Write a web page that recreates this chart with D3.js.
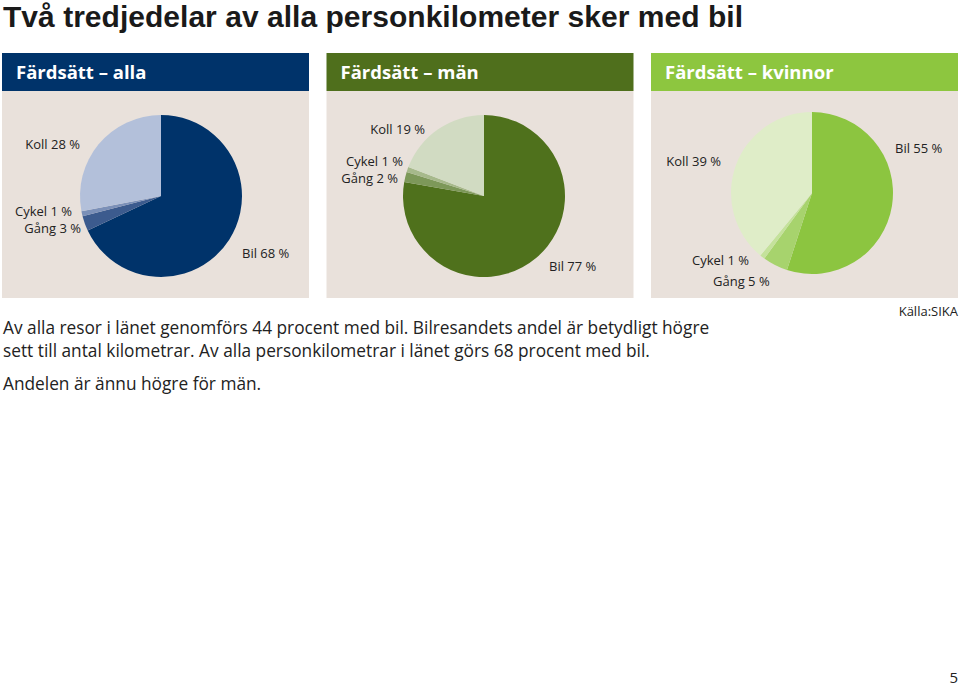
<!DOCTYPE html>
<html>
<head>
<meta charset="utf-8">
<script src="https://cdn.jsdelivr.net/npm/d3@7"></script>
<style>
  body { margin: 0; background: #fff; }
  svg { display: block; font-family: "Open Sans", "Noto Sans", sans-serif; }
</style>
</head>
<body>
<svg id="chart" width="960" height="686"></svg>
<script>
// Data
var modes = ["Bil", "Gång", "Cykel", "Koll"];
var panelTitles = ["Färdsätt – alla", "Färdsätt – män", "Färdsätt – kvinnor"];
var sharesAlla = [68, 3, 1, 28];
var sharesMan = [77, 2, 1, 19];
var sharesKvinnor = [55, 5, 1, 39];

var headline = "Två tredjedelar av alla personkilometer sker med bil";
var bodyLines = [
    "Av alla resor i länet genomförs 44 procent med bil. Bilresandets andel är betydligt högre",
    "sett till antal kilometrar. Av alla personkilometrar i länet görs 68 procent med bil.",
    "Andelen är ännu högre för män."
];
var source = "Källa:SIKA";
var pageNo = "5";

// Colours per panel (Bil, Gång, Cykel, Koll)
var palettes = [
    {head: "#00336a", slices: ["#00336a", "#3c5b8e", "#7b90b8", "#b3c0da"]},
    {head: "#4f6f1c", slices: ["#4f711c", "#7d9859", "#a6b98b", "#d1dbc2"]},
    {head: "#8dc63f", slices: ["#8cc540", "#a7d36d", "#c4e29b", "#dfedc8"]}
];

// Label placement relative to each pie centre (layout only)
var labelLayout = [
    [{dx: 81, dy: 62, a: "start"}, {dx: -80, dy: 37, a: "end"}, {dx: -89, dy: 20, a: "end"}, {dx: -81, dy: -47, a: "end"}],
    [{dx: 65, dy: 75, a: "start"}, {dx: -86, dy: -13, a: "end"}, {dx: -81, dy: -30, a: "end"}, {dx: -59, dy: -62, a: "end"}],
    [{dx: 83, dy: -40, a: "start"}, {dx: -99, dy: 93, a: "start"}, {dx: -120, dy: 72, a: "start"}, {dx: -91, dy: -27, a: "end"}]
];

var svg = d3.select("#chart");

// Title: font with a smaller ascent so it sits close to the top edge
svg.append("text")
    .attr("x", 3)
    .attr("y", 27)
    .attr("fill", "#1a1a1a")
    .attr("font-family", "'Liberation Sans', Arial, sans-serif")
    .attr("font-size", 30)
    .attr("font-weight", "bold")
    .attr("textLength", 740)
    .attr("lengthAdjust", "spacing")
    .text(headline);

// Panel geometry
var panelX = d3.scalePoint()
    .domain(d3.range(3))
    .range([2, 651]);
var panelW = 307;
var headTop = 53, headH = 38, bodyBottom = 298;
var radius = 81;
var centres = [[161, 196], [484, 196], [812, 193]];

var pie = d3.pie().sort(null).value(function(d) { return d; });
var arc = d3.arc().innerRadius(0).outerRadius(radius);

var allShares = [sharesAlla, sharesMan, sharesKvinnor];

allShares.forEach(function(shares, i) {
    var x0 = panelX(i);
    var g = svg.append("g");

    g.append("rect")
        .attr("x", x0).attr("y", headTop + headH)
        .attr("width", panelW).attr("height", bodyBottom - headTop - headH)
        .attr("fill", "#e9e1db");

    g.append("rect")
        .attr("x", x0).attr("y", headTop)
        .attr("width", panelW).attr("height", headH)
        .attr("fill", palettes[i].head);

    g.append("text")
        .attr("x", x0 + 14)
        .attr("y", headTop + 26)
        .attr("fill", "#fff")
        .attr("font-size", 18.5)
        .attr("font-weight", "bold")
        .text(panelTitles[i]);

    var pg = g.append("g")
        .attr("transform", "translate(" + centres[i][0] + "," + centres[i][1] + ")");

    pg.selectAll("path")
        .data(pie(shares))
        .join("path")
        .attr("d", arc)
        .attr("fill", function(d, j) { return palettes[i].slices[j]; });

    pg.selectAll("text")
        .data(shares)
        .join("text")
        .attr("x", function(d, j) { return labelLayout[i][j].dx; })
        .attr("y", function(d, j) { return labelLayout[i][j].dy; })
        .attr("text-anchor", function(d, j) { return labelLayout[i][j].a; })
        .attr("font-size", 13)
        .attr("fill", "#222")
        .text(function(d, j) { return modes[j] + " " + d + " %"; });
});

// Body text
var bodyY = [334, 357, 390];
svg.selectAll(".body")
    .data(bodyLines)
    .join("text")
    .attr("class", "body")
    .attr("x", 3)
    .attr("y", function(d, i) { return bodyY[i]; })
    .attr("font-size", 17.3)
    .attr("fill", "#222")
    .text(function(d) { return d; });

svg.append("text")
    .attr("x", 958).attr("y", 316)
    .attr("text-anchor", "end")
    .attr("font-size", 13)
    .attr("fill", "#222")
    .text(source);

svg.append("text")
    .attr("x", 958).attr("y", 683)
    .attr("text-anchor", "end")
    .attr("font-size", 15)
    .attr("fill", "#222")
    .text(pageNo);
</script>
</body>
</html>
